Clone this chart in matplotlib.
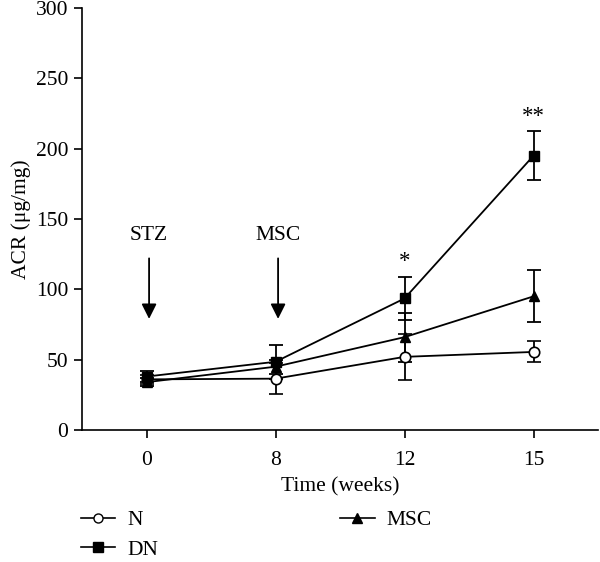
import matplotlib
matplotlib.use("Agg")
import matplotlib.pyplot as plt
from matplotlib.lines import Line2D
import numpy as np

plt.rcParams['font.family'] = ['Liberation Serif', 'DejaVu Serif']

weeks = ["0", "8", "12", "15"]
n_mean = [36, 36.5, 52, 55.5]
n_err = [3, 11, 16.5, 7.5]
dn_mean = [38, 48.5, 93.5, 195]
dn_err = [4, 12, 15.5, 17.5]
msc_mean = [34, 45, 66, 95]
msc_err = [3, 5, 17.5, 18.5]
stars = ["", "", "*", "**"]

FS = 15.5
fig = plt.figure(figsize=(6, 5.62), dpi=100)
ax = fig.add_axes([82/600, 132/562, 516/600, 422/562])
x = np.arange(len(weeks))

common = dict(color='black', lw=1.3, capsize=5, elinewidth=1.3, capthick=1.3, markersize=7.5)
ax.errorbar(x, n_mean, yerr=n_err, marker='o', mfc='white', mec='black', mew=1.2, **common)
ax.errorbar(x, dn_mean, yerr=dn_err, marker='s', mfc='black', mec='black', **common)
ax.errorbar(x, msc_mean, yerr=msc_err, marker='^', mfc='black', mec='black', **common)

for xi, s, m, e in zip(x, stars, dn_mean, dn_err):
    if s:
        ax.text(xi, m + e + 3, s, ha='center', va='bottom', fontsize=FS + 1)

# annotations
for xi, lab in [(0, "STZ"), (1, "MSC")]:
    ax.text(xi + 0.02, 138, lab, ha='center', va='center', fontsize=FS)
    ax.annotate("", xy=(xi + 0.02, 77), xytext=(xi + 0.02, 124),
                arrowprops=dict(arrowstyle='-|>,head_length=0.9,head_width=0.45', color='black', lw=1.3))

ax.set_xlim(-0.5, 3.5)
ax.set_ylim(0, 300)
ax.set_yticks(np.arange(0, 301, 50))
ax.set_xticks(x)
ax.set_xticklabels(weeks)
ax.spines['top'].set_visible(False)
ax.spines['right'].set_visible(False)
for sp in ['left', 'bottom']:
    ax.spines[sp].set_linewidth(1.2)
ax.tick_params(axis='both', direction='out', length=6, width=1.2, labelsize=FS)
ax.tick_params(axis='x', pad=9)
ax.tick_params(axis='y', pad=4)
ax.set_xlabel("Time (weeks)", fontsize=FS, labelpad=5)
ax.set_ylabel("ACR (μg/mg)", fontsize=FS, labelpad=3)

handles = [
    Line2D([], [], color='black', lw=1.2, marker='o', mfc='white', mec='black', markersize=6.5),
    Line2D([], [], color='black', lw=1.2, marker='s', mfc='black', mec='black', markersize=6.5),
    Line2D([], [], color='black', lw=1.2, marker='^', mfc='black', mec='black', markersize=6.5),
]
labels = ["N", "DN", "MSC"]
fig.legend(handles, labels, loc='lower left', bbox_to_anchor=(81/600, 2/562), ncol=2,
           frameon=False, fontsize=FS, columnspacing=8.45, handlelength=1.6,
           labelspacing=0.45, handletextpad=0.55, borderpad=0, borderaxespad=0)

fig.savefig("out.png", dpi=100)
